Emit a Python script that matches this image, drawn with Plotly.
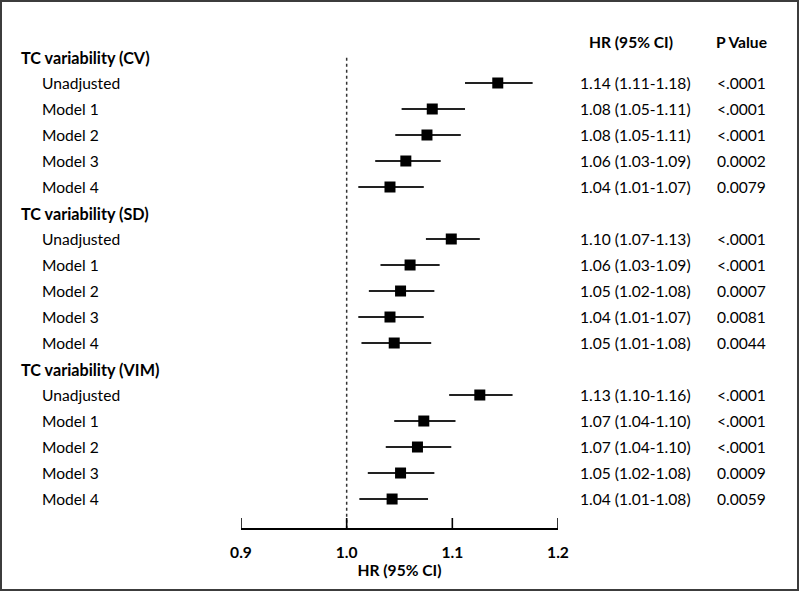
import plotly.graph_objects as go

# ---- data ----
groups = ["TC variability (CV)", "TC variability (SD)", "TC variability (VIM)"]
models = ["Unadjusted", "Model 1", "Model 2", "Model 3", "Model 4"]

hr = [
    [1.143, 1.081, 1.076, 1.056, 1.041],
    [1.099, 1.060, 1.051, 1.041, 1.045],
    [1.126, 1.073, 1.067, 1.051, 1.043],
]
lo = [
    [1.112, 1.052, 1.046, 1.027, 1.011],
    [1.075, 1.032, 1.021, 1.011, 1.014],
    [1.097, 1.045, 1.037, 1.020, 1.012],
]
hi = [
    [1.176, 1.112, 1.108, 1.089, 1.073],
    [1.126, 1.088, 1.083, 1.073, 1.080],
    [1.157, 1.103, 1.099, 1.083, 1.077],
]
hr_text = [
    ["1.14 (1.11-1.18)", "1.08 (1.05-1.11)", "1.08 (1.05-1.11)", "1.06 (1.03-1.09)", "1.04 (1.01-1.07)"],
    ["1.10 (1.07-1.13)", "1.06 (1.03-1.09)", "1.05 (1.02-1.08)", "1.04 (1.01-1.07)", "1.05 (1.01-1.08)"],
    ["1.13 (1.10-1.16)", "1.07 (1.04-1.10)", "1.07 (1.04-1.10)", "1.05 (1.02-1.08)", "1.04 (1.01-1.08)"],
]
p_text = [
    ["<.0001", "<.0001", "<.0001", "0.0002", "0.0079"],
    ["<.0001", "<.0001", "0.0007", "0.0081", "0.0044"],
    ["<.0001", "<.0001", "<.0001", "0.0009", "0.0059"],
]
tick_vals = [0.9, 1.0, 1.1, 1.2]
tick_labels = ["0.9", "1.0", "1.1", "1.2"]

W, H = 800, 593
FONT = "Lato"
FS = 15.6
FSB = 16.2

fig = go.Figure()
annotations = []


def txt(x, y, text, size=FS, anchor="left"):
    return dict(x=x / W, y=y, xref="paper", yref="y", text=text, showarrow=False,
                xanchor=anchor, yanchor="middle", borderpad=0,
                font=dict(family=FONT, size=size, color="black"))


row = 0
xs, ys, ex_plus, ex_minus = [], [], [], []
for g, gname in enumerate(groups):
    annotations.append(txt(20, row, "<b>%s</b>" % gname, FSB))
    row += 1
    for m, mname in enumerate(models):
        annotations.append(txt(41, row, mname))
        annotations.append(txt(579, row, hr_text[g][m]))
        annotations.append(txt(716, row, p_text[g][m]))
        xs.append(hr[g][m])
        ys.append(row)
        ex_plus.append(hi[g][m] - hr[g][m])
        ex_minus.append(hr[g][m] - lo[g][m])
        row += 1

# CI lines
for x, y, ep, em in zip(xs, ys, ex_plus, ex_minus):
    fig.add_trace(go.Scatter(x=[x - em, x + ep], y=[y, y], mode="lines",
                             line=dict(color="#222222", width=2), hoverinfo="skip",
                             showlegend=False))
fig.add_trace(go.Scatter(x=xs, y=ys, mode="markers",
                         marker=dict(symbol="square", size=11, color="black"),
                         showlegend=False))

# headers
annotations.append(txt(631, -0.56, "<b>HR (95% CI)</b>", FS, "center"))
annotations.append(txt(741, -0.56, "<b>P Value</b>", FS, "center"))

# reference line at HR = 1
fig.add_shape(type="line", x0=1.0, x1=1.0, y0=0.03, y1=18.115, xref="x", yref="y",
              line=dict(color="#333333", width=1.5, dash="dot"))

# upward tick marks at tick values (axis decoration)
y_axis_bottom = 1 - 528 / H
for tv in tick_vals:
    fig.add_shape(type="line", x0=tv, x1=tv, y0=y_axis_bottom, y1=y_axis_bottom + 10 / H,
                  xref="x", yref="paper", line=dict(color="black", width=1.6))

# border
fig.add_shape(type="rect", x0=1 / W, x1=1 - 2 / W, y0=3 / H, y1=1 - 1 / H, xref="paper", yref="paper",
              line=dict(color="#3c3c3c", width=2))

fig.update_layout(
    width=W, height=H, autosize=False,
    margin=dict(l=0, r=0, t=0, b=0, autoexpand=False),
    paper_bgcolor="white", plot_bgcolor="white",
    showlegend=False,
    annotations=annotations,
    xaxis=dict(domain=[241 / W, 558 / W], range=[0.9, 1.2], tickvals=tick_vals,
               ticktext=["<b>%s</b>" % t for t in tick_labels],
               ticks="", showline=True, linecolor="black", linewidth=1.5,
               showgrid=False, zeroline=False,
               ticklabelstandoff=10,
               tickfont=dict(family=FONT, size=FS, color="black"),
               title=dict(text="<b>HR (95% CI)</b>", font=dict(family=FONT, size=FS, color="black"), standoff=2),
               fixedrange=True),
    yaxis=dict(domain=[y_axis_bottom, 1], range=[18.115, -2.1923], visible=False, fixedrange=True),
)

post = ("document.body.style.margin='0';document.body.style.overflow='hidden';"
        "var gd=document.getElementById('{plot_id}');"
        "Plotly.relayout(gd,{width:800,height:593});")
fig.write_html("out.html", config={"responsive": False, "displayModeBar": False}, post_script=post)
